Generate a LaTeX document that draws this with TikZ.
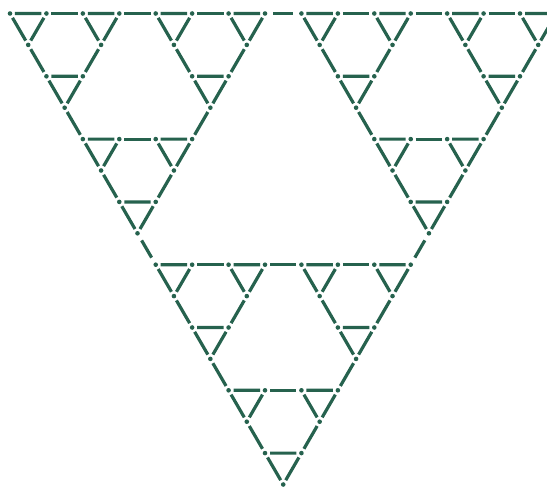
\documentclass[tikz,border=0pt]{standalone}
\usepackage{tikz}
\usetikzlibrary{calc}
\definecolor{fracgreen}{RGB}{38,98,78}

\begin{document}
\begin{tikzpicture}[x=9.1075pt,y=-15.7pt,
    vtx/.style={circle, fill=fracgreen, inner sep=0pt, minimum size=2.3pt, outer sep=1.35pt},
    edge/.style={draw=fracgreen, line width=1.6pt},
    longedge/.style={edge, shorten <=1.6pt, shorten >=1.6pt}]
    \useasboundingbox (-5pt,6.75pt) rectangle (268.5pt,-236.75pt);
    % 27 small triangles
    \foreach \ax/\ar in {0/0,16/0,8/8}{
      \foreach \bx/\br in {0/0,8/0,4/4}{
        \foreach \cx/\cr in {0/0,4/0,2/2}{
          \pgfmathtruncatemacro{\X}{\ax+\bx+\cx}
          \pgfmathtruncatemacro{\R}{\ar+\br+\cr}
          \pgfmathtruncatemacro{\xr}{\X+2}
          \pgfmathtruncatemacro{\xm}{\X+1}
          \pgfmathtruncatemacro{\rb}{\R+1}
          \node[vtx] (v\X-\R) at (\X,\R) {};
          \node[vtx] (v\xr-\R) at (\xr,\R) {};
          \node[vtx] (v\xm-\rb) at (\xm,\rb) {};
          \draw[edge] (v\X-\R) -- (v\xr-\R) -- (v\xm-\rb) -- (v\X-\R);
        }
      }
    }
    % links between the corner copies
    \foreach \X/\R/\k in {0/0/1,8/0/1,4/4/1,16/0/1,24/0/1,20/4/1,8/8/1,16/8/1,12/12/1,
                          0/0/3,16/0/3,8/8/3}{
      \pgfmathtruncatemacro{\tpa}{\X+2*\k}
      \pgfmathtruncatemacro{\tpb}{\X+2*\k+2}
      \pgfmathtruncatemacro{\lfa}{\X+\k}
      \pgfmathtruncatemacro{\lfb}{\X+\k+1}
      \pgfmathtruncatemacro{\rwa}{\R+\k}
      \pgfmathtruncatemacro{\rwb}{\R+\k+1}
      \pgfmathtruncatemacro{\rta}{\X+3*\k+2}
      \pgfmathtruncatemacro{\rtb}{\X+3*\k+1}
      \draw[edge] (v\tpa-\R) -- (v\tpb-\R);
      \draw[edge] (v\lfa-\rwa) -- (v\lfb-\rwb);
      \draw[edge] (v\rta-\rwa) -- (v\rtb-\rwb);
    }
    % outer links
    \draw[longedge] (v14-0) -- (v16-0);
    \draw[longedge] (v7-7) -- (v8-8);
    \draw[longedge] (v23-7) -- (v22-8);
\end{tikzpicture}
\end{document}
